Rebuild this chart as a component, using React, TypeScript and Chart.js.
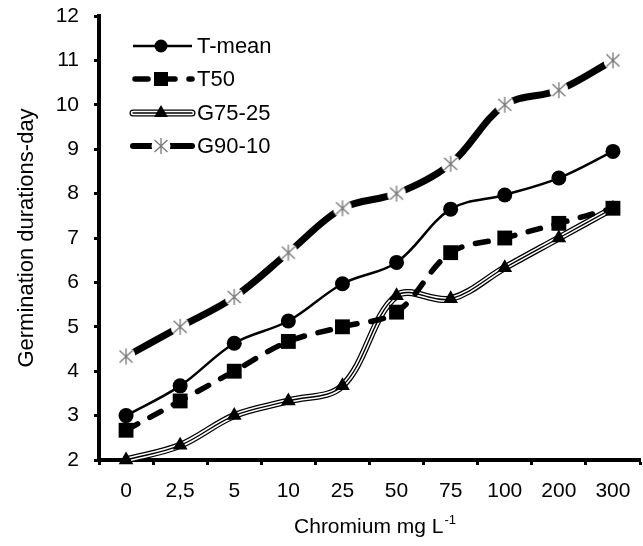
import React, { useEffect, useRef } from 'react';
import { Chart, registerables } from 'chart.js';

Chart.register(...registerables);

// ---------- data ----------
const categories = ['0', '2,5', '5', '10', '25', '50', '75', '100', '200', '300'];
const tMean = [3.0, 3.67, 4.63, 5.13, 5.97, 6.45, 7.65, 7.97, 8.35, 8.95];
const t50 = [2.67, 3.33, 4.0, 4.67, 5.0, 5.33, 6.67, 7.0, 7.33, 7.67];
const g7525 = [2.0, 2.33, 3.0, 3.33, 3.67, 5.7, 5.63, 6.33, 7.0, 7.67];
const g9010 = [4.33, 5.0, 5.67, 6.67, 7.67, 8.0, 8.67, 10.0, 10.33, 11.0];
const seriesNames = ['T-mean', 'T50', 'G75-25', 'G90-10'];
const yMin = 2;
const yMax = 12;
const yStep = 1;
const yTitle = 'Germination durations-day';
const xTitle = 'Chromium mg L';
const xTitleSup = '-1';

const FONT = "'Liberation Sans', Arial, Helvetica, sans-serif";
const TENSION = 0.35;

function makeStar(): HTMLCanvasElement {
  const c = document.createElement('canvas');
  c.width = 22;
  c.height = 22;
  const g = c.getContext('2d')!;
  g.fillStyle = '#fff';
  g.beginPath();
  g.arc(11, 11, 9.5, 0, Math.PI * 2);
  g.fill();
  g.strokeStyle = '#777';
  g.lineWidth = 1.3;
  g.beginPath();
  g.moveTo(11, 3);
  g.lineTo(11, 19);
  g.moveTo(4.5, 5);
  g.lineTo(17.5, 17);
  g.moveTo(17.5, 5);
  g.lineTo(4.5, 17);
  g.stroke();
  return c;
}

function triangle(ctx: CanvasRenderingContext2D, x: number, y: number, r: number) {
  ctx.beginPath();
  for (let i = 0; i < 3; i++) {
    const a = (i * 2 * Math.PI) / 3;
    const px = x + Math.sin(a) * r;
    const py = y - Math.cos(a) * r;
    if (i === 0) ctx.moveTo(px, py);
    else ctx.lineTo(px, py);
  }
  ctx.closePath();
  ctx.fill();
}

export default function App() {
  const ref = useRef<HTMLCanvasElement | null>(null);

  useEffect(() => {
    document.body.style.margin = '0';
    const canvas = ref.current;
    if (!canvas) return;
    const star = makeStar();

    const legendPlugin = {
      id: 'customLegend',
      afterDraw(chart: any) {
        const ctx: CanvasRenderingContext2D = chart.ctx;
        const x0 = 133;
        const x1 = 192;
        const xm = 161;
        const tx = 197;
        const rows = [46, 79, 113, 146];
        ctx.save();
        ctx.fillStyle = '#000';
        ctx.strokeStyle = '#000';
        // T-mean
        ctx.lineWidth = 2.5;
        ctx.beginPath();
        ctx.moveTo(x0, rows[0]);
        ctx.lineTo(x1, rows[0]);
        ctx.stroke();
        ctx.beginPath();
        ctx.arc(xm, rows[0], 6.5, 0, Math.PI * 2);
        ctx.fill();
        // T50
        ctx.lineWidth = 5.5;
        ctx.lineCap = 'round';
        ctx.setLineDash([13, 14]);
        ctx.beginPath();
        ctx.moveTo(x0 + 2, rows[1]);
        ctx.lineTo(x1, rows[1]);
        ctx.stroke();
        ctx.setLineDash([]);
        ctx.lineCap = 'butt';
        ctx.fillRect(xm - 7, rows[1] - 7, 14, 14);
        // G75-25
        ctx.lineCap = 'round';
        ctx.lineWidth = 7;
        ctx.strokeStyle = '#000';
        ctx.beginPath();
        ctx.moveTo(x0, rows[2]);
        ctx.lineTo(x1, rows[2]);
        ctx.stroke();
        ctx.lineWidth = 4.5;
        ctx.strokeStyle = '#fff';
        ctx.beginPath();
        ctx.moveTo(x0, rows[2]);
        ctx.lineTo(x1, rows[2]);
        ctx.stroke();
        ctx.lineWidth = 1.4;
        ctx.strokeStyle = '#000';
        ctx.beginPath();
        ctx.moveTo(x0, rows[2]);
        ctx.lineTo(x1, rows[2]);
        ctx.stroke();
        triangle(ctx, xm, rows[2], 8);
        // G90-10
        ctx.lineWidth = 6;
        ctx.lineCap = 'round';
        ctx.beginPath();
        ctx.moveTo(x0, rows[3]);
        ctx.lineTo(x1, rows[3]);
        ctx.stroke();
        ctx.lineCap = 'butt';
        ctx.drawImage(star, xm - 11, rows[3] - 11);
        // texts
        ctx.font = `22px ${FONT}`;
        ctx.textBaseline = 'middle';
        ctx.textAlign = 'left';
        ctx.fillStyle = '#000';
        seriesNames.forEach((n, i) => ctx.fillText(n, tx, rows[i] + 1));

        // x-axis title with superscript
        const mainFont = `21px ${FONT}`;
        const supFont = `13px ${FONT}`;
        ctx.font = mainFont;
        const w1 = ctx.measureText(xTitle).width;
        ctx.font = supFont;
        const w2 = ctx.measureText(xTitleSup).width;
        const cx = 375;
        const cy = 527;
        const sx = cx - (w1 + w2 + 1) / 2;
        ctx.font = mainFont;
        ctx.fillText(xTitle, sx, cy);
        ctx.font = supFont;
        ctx.fillText(xTitleSup, sx + w1 + 1, cy - 7);
        ctx.restore();
      },
    };

    const common = { tension: TENSION, clip: false as any, fill: false };

    const chart = new Chart(canvas, {
      type: 'line',
      data: {
        labels: categories,
        datasets: [
          {
            ...common,
            label: seriesNames[2] + '-outer',
            data: g7525,
            borderColor: '#000',
            borderWidth: 7,
            pointRadius: 0,
            order: 10,
          },
          {
            ...common,
            label: seriesNames[2] + '-inner',
            data: g7525,
            borderColor: '#fff',
            borderWidth: 4.5,
            pointRadius: 0,
            order: 9,
          },
          {
            ...common,
            label: seriesNames[2],
            data: g7525,
            borderColor: '#000',
            borderWidth: 1.4,
            pointStyle: 'triangle',
            pointRadius: 8.5,
            pointBackgroundColor: '#000',
            pointBorderColor: '#000',
            pointBorderWidth: 0,
            order: 8,
          },
          {
            ...common,
            label: seriesNames[1],
            data: t50,
            borderColor: '#000',
            borderWidth: 5.5,
            borderDash: [13, 14],
            borderCapStyle: 'round',
            pointStyle: 'rect',
            pointRadius: 10.5,
            pointBackgroundColor: '#000',
            pointBorderColor: '#000',
            pointBorderWidth: 0,
            order: 7,
          },
          {
            ...common,
            label: seriesNames[0],
            data: tMean,
            borderColor: '#000',
            borderWidth: 2.5,
            pointStyle: 'circle',
            pointRadius: 7.5,
            pointBackgroundColor: '#000',
            pointBorderColor: '#000',
            pointBorderWidth: 0,
            order: 6,
          },
          {
            ...common,
            label: seriesNames[3],
            data: g9010,
            borderColor: '#000',
            borderWidth: 7,
            pointStyle: star as any,
            pointRadius: 10,
            order: 5,
          },
        ] as any,
      },
      options: {
        responsive: false,
        animation: false,
        devicePixelRatio: 1,
        layout: { autoPadding: false, padding: { top: 16, right: 3, left: 0, bottom: 0 } },
        plugins: { legend: { display: false }, tooltip: { enabled: false } },
        scales: {
          x: {
            type: 'category',
            offset: true,
            grid: {
              display: true,
              drawOnChartArea: false,
              drawTicks: true,
              tickLength: 5,
              tickWidth: 3,
              tickColor: '#000',
              color: '#000',
              offset: true,
            },
            border: { display: true, color: '#000', width: 4 },
            ticks: {
              color: '#000',
              font: { family: FONT, size: 21 },
              padding: 14,
              maxRotation: 0,
              autoSkip: false,
            },
            afterFit: (s: any) => {
              s.height = 86;
              s.paddingLeft = 0;
              s.paddingRight = 0;
            },
          },
          y: {
            min: yMin,
            max: yMax,
            grid: {
              display: true,
              drawOnChartArea: false,
              drawTicks: true,
              tickLength: 5,
              tickWidth: 3,
              tickColor: '#000',
              color: '#000',
            },
            border: { display: true, color: '#000', width: 4 },
            ticks: {
              stepSize: yStep,
              color: '#000',
              font: { family: FONT, size: 21 },
              padding: 15,
            },
            title: {
              display: true,
              text: yTitle,
              color: '#000',
              font: { family: FONT, size: 22 },
              padding: { top: 14, bottom: 0 },
            },
            afterFit: (s: any) => {
              s.width = 99;
              s.paddingTop = 0;
              s.paddingBottom = 0;
            },
          },
        },
      },
      plugins: [legendPlugin],
    });

    return () => chart.destroy();
  }, []);

  return (
    <div style={{ width: 643, height: 546 }}>
      <canvas ref={ref} width={643} height={546} style={{ display: 'block', width: 643, height: 546 }} />
    </div>
  );
}
